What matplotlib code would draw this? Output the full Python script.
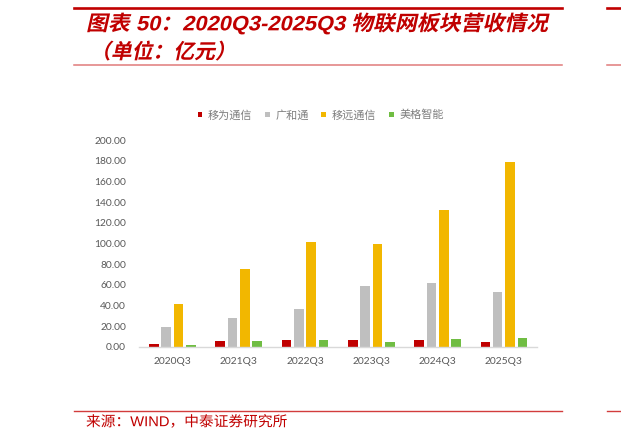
import matplotlib
matplotlib.use("Agg")
import matplotlib.pyplot as plt
import numpy as np
from matplotlib.lines import Line2D
from matplotlib.patches import Patch
from matplotlib.patheffects import AbstractPathEffect
from matplotlib.transforms import Affine2D

# ---- data ----
categories = ["2020Q3", "2021Q3", "2022Q3", "2023Q3", "2024Q3", "2025Q3"]
series_names = ["移为通信", "广和通", "移远通信", "美格智能"]
yiwei = [2.9, 5.8, 7.1, 6.5, 6.5, 5.2]
guanghetong = [19.1, 28.4, 36.8, 58.5, 61.4, 53.3]
yiyuan = [41.7, 75.0, 101.5, 99.5, 132.5, 179.0]
meige = [1.9, 5.8, 6.5, 5.2, 8.1, 8.7]
yticks = [0, 20, 40, 60, 80, 100, 120, 140, 160, 180, 200]

title1 = "图表 50：2020Q3-2025Q3 物联网板块营收情况"
title2 = "（单位：亿元）"
source = "来源：WIND，中泰证券研究所"

colors = ["#C00000", "#BFBFBF", "#F2B700", "#70BD43"]

W, H = 621, 442
fig = plt.figure(figsize=(W / 100, H / 100), dpi=100)


def fx(x):
    return x / W


def fy(y):
    return 1 - y / H


class Slant(AbstractPathEffect):
    def __init__(self, deg=12, sx=1.0):
        super().__init__()
        self.sk = Affine2D().skew_deg(deg, 0).scale(sx, 1.0)

    def draw_path(self, renderer, gc, tpath, affine, rgbFace=None):
        renderer.draw_path(gc, tpath, self.sk + affine, rgbFace)


class Stretch(AbstractPathEffect):
    def __init__(self, sx=1.0):
        super().__init__()
        self.sk = Affine2D().scale(sx, 1.0)

    def draw_path(self, renderer, gc, tpath, affine, rgbFace=None):
        renderer.draw_path(gc, tpath, self.sk + affine, rgbFace)


ax = fig.add_axes([fx(139.3), fy(347), fx(537) - fx(139.3), fy(140) - fy(347)])

x = np.arange(len(categories))
bw = 0.145
pitch = 0.186
data = [yiwei, guanghetong, yiyuan, meige]
for i, (vals, c) in enumerate(zip(data, colors)):
    ax.bar(x + (i - 1.5) * pitch, vals, width=bw, color=c, linewidth=0, zorder=2)

ax.set_xlim(-0.5, len(categories) - 0.5)
ax.set_ylim(0, 200)
ax.set_yticks(yticks)
ax.set_yticklabels([f"{v:.2f}" for v in yticks])
ax.set_xticks(x)
ax.set_xticklabels(categories)
for s in ["top", "right", "left"]:
    ax.spines[s].set_visible(False)
ax.spines["bottom"].set_color("#D9D9D9")
ax.spines["bottom"].set_linewidth(1.0)
ax.tick_params(axis="both", length=0, labelsize=7.4, labelcolor="#595959")
ax.tick_params(axis="y", pad=9.5)
ax.tick_params(axis="x", pad=7)
for lab in ax.get_xticklabels() + ax.get_yticklabels():
    lab.set_family(["Lato", "DejaVu Sans"])

handles = [Patch(facecolor=c, edgecolor="none") for c in colors]
leg = fig.legend(handles, series_names, loc="center",
                 bbox_to_anchor=(fx(320.6), fy(115)), ncol=4, frameon=False,
                 handlelength=0.42, handleheight=0.42, handletextpad=0.5,
                 columnspacing=1.15, borderaxespad=0, borderpad=0,
                 prop={"family": ["Noto Sans CJK SC"], "size": 8})
for t in leg.get_texts():
    t.set_color("#7F7F7F")

red = "#C00000"
# decorative rules
fig.add_artist(Line2D([fx(74), fx(562)], [fy(7.5), fy(7.5)], color=red, lw=1.9,
                      transform=fig.transFigure))
fig.add_artist(Line2D([fx(607), fx(621)], [fy(7.5), fy(7.5)], color=red, lw=1.9,
                      transform=fig.transFigure))
fig.add_artist(Line2D([fx(74), fx(562)], [fy(64.5), fy(64.5)], color="#E07A7A", lw=1.1,
                      transform=fig.transFigure))
fig.add_artist(Line2D([fx(607), fx(621)], [fy(64.5), fy(64.5)], color="#E07A7A", lw=1.1,
                      transform=fig.transFigure))
fig.add_artist(Line2D([fx(74), fx(562)], [fy(411), fy(411)], color="#D23C3C", lw=1.0,
                      transform=fig.transFigure))
fig.add_artist(Line2D([fx(607), fx(621)], [fy(411), fy(411)], color="#D23C3C", lw=1.0,
                      transform=fig.transFigure))

tfam = ["Liberation Sans", "Noto Sans CJK SC", "DejaVu Sans"]
fig.text(fx(86), fy(23.5), title1, ha="left", va="center", color=red,
         fontsize=15, fontweight="bold", family=tfam,
         path_effects=[Slant(12, 1.05)])
fig.text(fx(90), fy(52), title2, ha="left", va="center", color=red,
         fontsize=15, fontweight="bold", family=["Noto Sans CJK SC", "DejaVu Sans"],
         path_effects=[Slant(12)])
fig.text(fx(86), fy(422), source, ha="left", va="center", color=red,
         fontsize=10.3, family=tfam, path_effects=[Stretch(1.03)])

fig.savefig("out.png", dpi=100)
